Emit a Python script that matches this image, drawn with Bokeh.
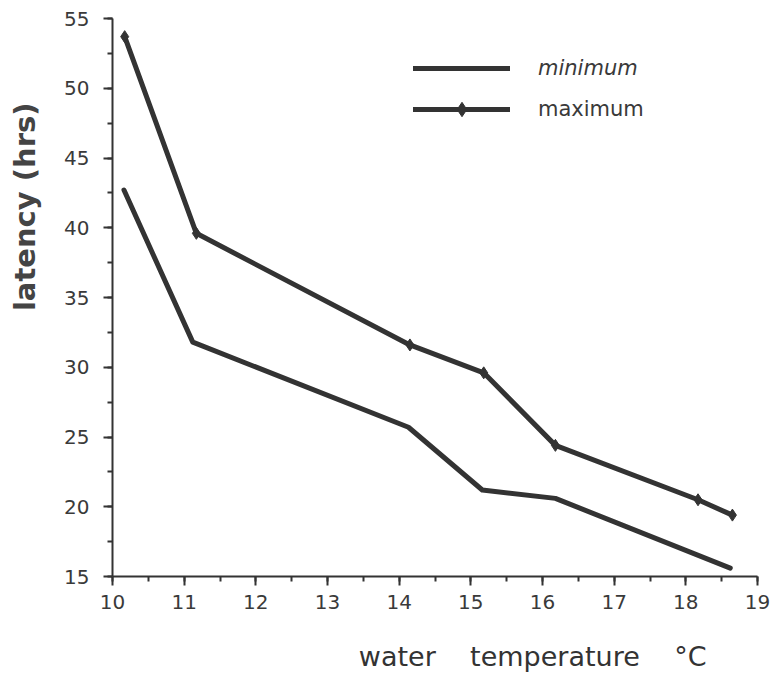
import math
from bokeh.plotting import figure
from bokeh.models import (Range1d, SingleIntervalTicker, FixedTicker, LinearAxis,
                          Legend, LegendItem, Title)
from bokeh.embed import file_html
from bokeh.resources import INLINE

# data
temp_min = [10.16, 11.12, 14.13, 15.16, 16.18, 18.62]
lat_min = [42.7, 31.8, 25.7, 21.2, 20.6, 15.6]
temp_max = [10.17, 11.17, 14.15, 15.18, 16.18, 18.17, 18.65]
lat_max = [53.7, 39.6, 31.6, 29.6, 24.4, 20.5, 19.4]

x_title = "water\u00a0\u00a0\u00a0\u00a0temperature\u00a0\u00a0\u00a0\u00a0°C"
y_title = "latency (hrs)"

INK = "#333333"
FONT = "DejaVu Sans"

p = figure(width=774, height=674, output_backend="svg", toolbar_location=None,
           title=None,
           x_range=Range1d(10, 19), y_range=Range1d(15, 55),
           min_border_left=112, min_border_right=17,
           min_border_top=18, min_border_bottom=98)
p.outline_line_color = None
p.grid.visible = False
p.background_fill_color = "white"
p.border_fill_color = "white"

p.xaxis.ticker = SingleIntervalTicker(interval=1, num_minor_ticks=2)
p.yaxis.ticker = SingleIntervalTicker(interval=5, num_minor_ticks=2)
for ax in (p.xaxis, p.yaxis):
    ax.axis_line_color = INK
    ax.axis_line_width = 2
    ax.major_tick_line_color = INK
    ax.major_tick_line_width = 2
    ax.minor_tick_line_color = INK
    ax.minor_tick_line_width = 2
    ax.major_tick_in = 0
    ax.major_tick_out = 9
    ax.minor_tick_in = 0
    ax.minor_tick_out = 5
    ax.major_label_text_font = FONT
    ax.major_label_text_font_size = "20px"
    ax.major_label_text_color = "#3a3a3a"
p.yaxis.major_label_standoff = 14
p.xaxis.major_label_standoff = 9

l_min = p.line(temp_min, lat_min, line_width=5, line_color=INK, line_join="round", line_cap="round")
l_max = p.line(temp_max, lat_max, line_width=5, line_color=INK, line_join="round", line_cap="round")
s_max = p.scatter(temp_max, lat_max, marker="diamond", size=12, fill_color=INK, line_color=INK)

leg_common = dict(padding=0, margin=0, glyph_width=97, glyph_height=36, label_height=36,
                  label_standoff=28, border_line_color=None, background_fill_alpha=0,
                  label_text_font=FONT, label_text_font_size="21px", label_text_color="#3a3a3a")
leg1 = Legend(items=[LegendItem(label="minimum", renderers=[l_min])],
              location=(301, 490), label_text_font_style="italic", **leg_common)
leg2 = Legend(items=[LegendItem(label="maximum", renderers=[l_max, s_max])],
              location=(301, 449), **leg_common)
p.add_layout(leg1)
p.add_layout(leg2)

# blank spacers (white tick, empty label) that push the axis titles outward
spacer_b = LinearAxis(ticker=FixedTicker(ticks=[10], minor_ticks=[]), axis_line_color=None,
                      major_tick_line_color="white", minor_tick_line_color=None,
                      major_tick_in=0, major_tick_out=26, minor_tick_in=0, minor_tick_out=0,
                      major_label_standoff=0, major_label_overrides={10: ""},
                      major_label_text_font_size="1px")
p.add_layout(spacer_b, "below")
spacer_l = LinearAxis(ticker=FixedTicker(ticks=[55], minor_ticks=[]), axis_line_color=None,
                      major_tick_line_color="white", minor_tick_line_color=None,
                      major_tick_in=0, major_tick_out=14, minor_tick_in=0, minor_tick_out=0,
                      major_label_standoff=0, major_label_overrides={55: ""},
                      major_label_text_font_size="1px")
p.add_layout(spacer_l, "left")

p.add_layout(Title(text=y_title, align="right", offset=84, standoff=8,
                   vertical_align="top",
                   text_font=FONT, text_font_size="29px", text_font_style="bold",
                   text_color="#444444"), "left")
p.add_layout(Title(text=x_title, align="right", offset=51, standoff=2,
                   vertical_align="bottom",
                   text_font=FONT, text_font_size="27px", text_font_style="normal",
                   text_color="#333333"), "below")

open("out.html", "w").write(file_html(p, INLINE))
